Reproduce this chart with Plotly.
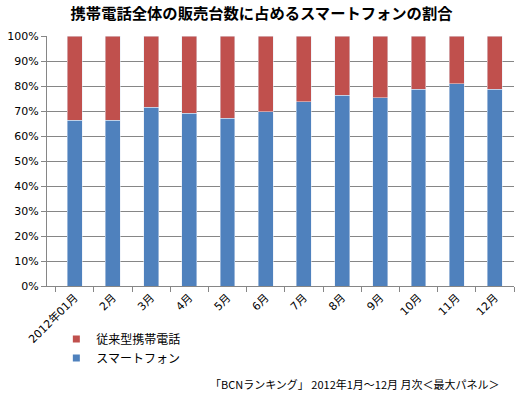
import plotly.graph_objects as go

months = ["2012年01月", "2月", "3月", "4月", "5月", "6月", "7月", "8月", "9月", "10月", "11月", "12月"]
smartphone = [66.4, 66.4, 71.6, 69.2, 67.2, 69.7, 73.7, 76.4, 75.3, 78.8, 80.9, 78.8]
feature = [round(100 - v, 1) for v in smartphone]
y_ticks = [0, 10, 20, 30, 40, 50, 60, 70, 80, 90, 100]
y_labels = [f"{v}%" for v in y_ticks]

blue = "#4F81BD"
red = "#C0504D"
font_jp = "Noto Sans CJK JP, DejaVu Sans, sans-serif"

fig = go.Figure()
fig.add_trace(go.Bar(x=months, y=smartphone, name="スマートフォン", marker_color=blue,
                     showlegend=False, legendgroup="sp"))
fig.add_trace(go.Bar(x=months, y=feature, name="従来型携帯電話", marker_color=red,
                     showlegend=False, legendgroup="fp"))
# legend entries with small square markers
fig.add_trace(go.Scatter(x=[months[0]], y=[None], mode="markers", name="スマートフォン",
                         marker=dict(symbol="square", size=7, color=blue), legendgroup="sp"))
fig.add_trace(go.Scatter(x=[months[0]], y=[None], mode="markers", name="従来型携帯電話",
                         marker=dict(symbol="square", size=7, color=red), legendgroup="fp"))

fig.update_layout(
    width=521, height=395,
    barmode="stack", bargap=0.61,
    paper_bgcolor="white", plot_bgcolor="white",
    margin=dict(l=45, r=7, t=36, b=109),
    font=dict(family=font_jp, size=11, color="black"),
    title=dict(text="携帯電話全体の販売台数に占めるスマートフォンの割合", x=0.502, xref="container",
               y=0.966, yref="container", xanchor="center", yanchor="middle",
               font=dict(size=15.3, family=font_jp, color="black", weight="bold")),
    legend=dict(x=0.02, y=-0.154, xanchor="left", yanchor="top", traceorder="reversed",
                font=dict(size=12, family=font_jp), tracegroupgap=0,
                bgcolor="rgba(0,0,0,0)"),
    showlegend=True,
)
fig.update_xaxes(
    showline=True, linecolor="#868686", linewidth=1,
    ticks="outside", tickson="boundaries", ticklen=5, tickcolor="#868686",
    tickangle=-45, tickfont=dict(size=11, family="DejaVu Sans, Noto Sans CJK JP"),
    showgrid=False,
)
fig.update_yaxes(
    range=[0, 100], tickvals=y_ticks, ticktext=y_labels,
    showline=True, linecolor="#868686", linewidth=1,
    ticks="outside", ticklen=5, tickcolor="#868686",
    showgrid=True, gridcolor="#868686", gridwidth=1,
    tickfont=dict(size=11, family="DejaVu Sans"), zeroline=False,
)
fig.add_annotation(text="「BCNランキング」 2012年1月～12月 月次＜最大パネル＞", xref="paper", yref="paper",
                   x=0.974, y=-0.392, xanchor="right", yanchor="middle", showarrow=False,
                   font=dict(size=11, family=font_jp, color="black"))

fig.write_html("out.html", config={"displayModeBar": False},
               post_script="document.body.style.margin='0';")
